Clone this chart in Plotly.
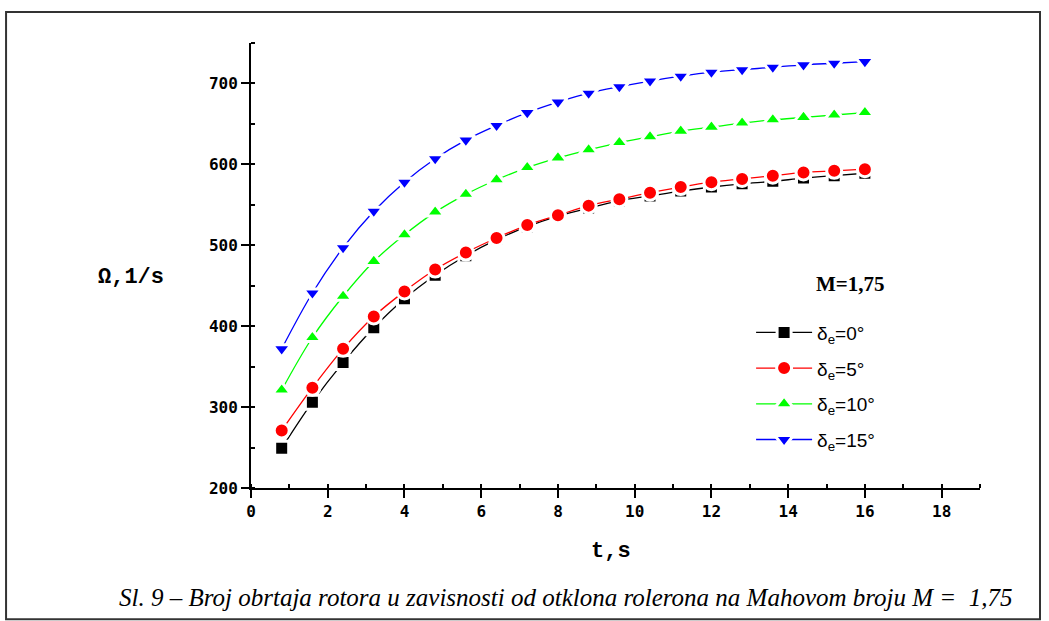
import plotly.graph_objects as go

# Time samples, s
t = [0.8, 1.6, 2.4, 3.2, 4.0, 4.8, 5.6, 6.4, 7.2, 8.0,
     8.8, 9.6, 10.4, 11.2, 12.0, 12.8, 13.6, 14.4, 15.2, 16.0]

# Rotor speed Omega, 1/s, for each aileron deflection
omega_d0 = [249, 306, 355, 398, 434, 463, 487, 507, 523, 536,
            546, 555, 561, 567, 572, 576, 579, 583, 586, 589]
omega_d5 = [271, 324, 372, 412, 443, 470, 491, 509, 525, 537,
            549, 557, 565, 572, 578, 582, 586, 590, 592, 594]
omega_d10 = [321, 386, 437, 480, 513, 541, 563, 581, 596, 608,
             618, 627, 634, 641, 646, 651, 655, 658, 661, 664]
omega_d15 = [372, 441, 497, 542, 578, 607, 630, 648, 664, 677,
             688, 696, 703, 709, 714, 717, 720, 723, 725, 727]

series_names = ["δ<sub>e</sub>=0°", "δ<sub>e</sub>=5°",
                "δ<sub>e</sub>=10°", "δ<sub>e</sub>=15°"]
series_values = [omega_d0, omega_d5, omega_d10, omega_d15]
series_colors = ["#000000", "#ff0000", "#00ff00", "#0000ff"]
series_symbols = ["square", "circle", "triangle-up", "triangle-down"]
series_sizes = [14, 15, 16, 16]

x_ticks = [0, 2, 4, 6, 8, 10, 12, 14, 16, 18]
y_ticks = [200, 300, 400, 500, 600, 700]

fig = go.Figure()
for i, (name, vals, col, sym, sz) in enumerate(
        zip(series_names, series_values, series_colors, series_symbols, series_sizes)):
    fig.add_trace(go.Scatter(
        x=t, y=vals, name=name, mode="lines+markers",
        legendgroup=f"g{i}",
        line=dict(color=col, width=1.3, shape="spline", smoothing=1.0),
        marker=dict(symbol=sym, size=sz, color=col,
                    line=dict(color="white", width=3)),
    ))

axis_font = dict(family="DejaVu Sans Mono", size=16, color="black", weight="bold")

fig.update_layout(
    width=1049, height=621,
    paper_bgcolor="white", plot_bgcolor="white",
    margin=dict(l=251, r=69, t=43, b=133),
    showlegend=True,
    legend=dict(
        x=0.686, y=0.392, xanchor="left", yanchor="top",
        font=dict(family="Liberation Sans", size=19, color="black"),
        bgcolor="rgba(0,0,0,0)", tracegroupgap=8,
        itemwidth=56,
    ),
    xaxis=dict(
        range=[0, 19], tickvals=x_ticks, showgrid=False, zeroline=False,
        showline=True, linecolor="black", linewidth=2,
        ticks="outside", ticklen=8, tickwidth=2, tickcolor="black",
        tickfont=axis_font,
        minor=dict(ticks="inside", ticklen=4, tickwidth=1.5,
                   tickcolor="black", dtick=1, tick0=1, showgrid=False),
    ),
    yaxis=dict(
        range=[200, 750], tickvals=y_ticks, showgrid=False, zeroline=False,
        showline=True, linecolor="black", linewidth=2,
        ticks="outside", ticklen=8, tickwidth=2, tickcolor="black",
        tickfont=axis_font,
        minor=dict(ticks="inside", ticklen=4, tickwidth=1.5,
                   tickcolor="black", dtick=50, tick0=250, showgrid=False),
    ),
)

title_font = dict(family="Liberation Mono", size=22, color="black", weight="bold")
fig.add_annotation(text="Ω,1/s", xref="paper", yref="paper", x=-0.164, y=0.472,
                   xanchor="center", yanchor="middle",
                   showarrow=False, font=title_font)
fig.add_annotation(text="t,s", xref="paper", yref="paper", x=0.494, y=-0.142,
                   xanchor="center", yanchor="middle",
                   showarrow=False, font=title_font)
fig.add_annotation(text="<b>M=1,75</b>", xref="paper", yref="paper", x=0.822, y=0.458,
                   xanchor="center", yanchor="middle", showarrow=False,
                   font=dict(family="Liberation Serif", size=21, color="black"))
fig.add_annotation(
    text="<i>Sl. 9 – Broj obrtaja rotora u zavisnosti od otklona rolerona na Mahovom broju M =  1,75</i>",
    xref="paper", yref="paper", x=0.431, y=-0.247, showarrow=False,
    xanchor="center", yanchor="middle",
    font=dict(family="Liberation Serif", size=25, color="black"))

# frame around the whole figure
fig.add_shape(type="rect", xref="paper", yref="paper",
              x0=-0.336, x1=1.0823, y0=-0.295, y1=1.0697,
              line=dict(color="#333333", width=2), fillcolor="rgba(0,0,0,0)")

fig.write_html("out.html")
